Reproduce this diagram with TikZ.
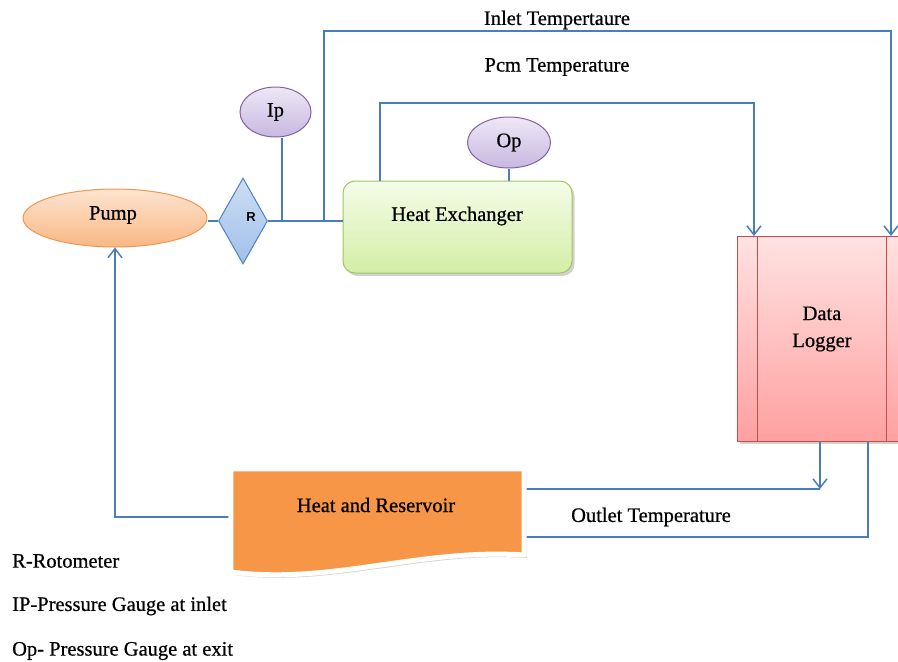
\documentclass[tikz,border=0pt]{standalone}
\usepackage{fontspec}
\setmainfont{Liberation Serif}[FakeBold=0.5]
\newfontfamily\lblfont{Liberation Serif}[FakeBold=0.6]
\setsansfont{Liberation Sans}
\usetikzlibrary{shapes.geometric,arrows.meta,shadows}
\definecolor{lineblue}{RGB}{74,126,187}
\definecolor{pumpdraw}{RGB}{240,150,80}
\definecolor{pumptop}{RGB}{253,228,208}
\definecolor{pumpbot}{RGB}{249,183,132}
\definecolor{dtop}{RGB}{205,222,244}
\definecolor{dbot}{RGB}{160,192,234}
\definecolor{ddraw}{RGB}{79,129,189}
\definecolor{gtop}{RGB}{238,232,246}
\definecolor{gbot}{RGB}{200,184,224}
\definecolor{gdraw}{RGB}{128,100,162}
\definecolor{htop}{RGB}{244,252,232}
\definecolor{hbot}{RGB}{212,238,166}
\definecolor{hdraw}{RGB}{160,198,100}
\definecolor{ltop}{RGB}{255,226,226}
\definecolor{lbot}{RGB}{255,160,160}
\definecolor{ldraw}{RGB}{192,80,77}
\definecolor{resfill}{RGB}{247,150,70}
\tikzset{
  lbl/.style={font=\lblfont\fontsize{20.5}{24}\selectfont, inner sep=0pt},
  conn/.style={draw=lineblue, line width=1.5pt},
  arr/.style={-{Straight Barb[length=9pt,width=14pt,line width=1.5pt]}},
  gauge/.style={ellipse, draw=gdraw, line width=1pt, top color=gtop, bottom color=gbot, inner sep=0pt, minimum width=71pt, minimum height=50pt, font=\lblfont\fontsize{20.5}{24}\selectfont},
  shad/.style={drop shadow={shadow xshift=2.5pt, shadow yshift=-3pt, opacity=0.3, fill=black!60}}
}
\begin{document}
\begin{tikzpicture}[x=1pt,y=-1pt]
\useasboundingbox (0,0) rectangle (898,662);
% nodes
\node[ellipse, draw=pumpdraw, line width=1pt, top color=pumptop, bottom color=pumpbot, inner sep=0pt, minimum width=184pt, minimum height=58pt] (pump) at (115,218) {};
\node[lbl] (pumpt) at (113,215) {Pump};
\node[diamond, draw=ddraw, line width=1pt, top color=dtop, bottom color=dbot, inner sep=0pt, minimum width=49pt, minimum height=86pt] (R) at (243,221) {};
\node[font=\sffamily\bfseries\fontsize{13}{15}\selectfont, inner sep=0pt] (Rt) at (251,217) {R};
\node[gauge] (ip) at (275.5,112) {Ip};
\node[gauge, minimum width=83pt, minimum height=51pt] (op) at (509,142.5) {Op};
\node[rectangle, rounded corners=12pt, draw=hdraw, line width=1pt, top color=htop, bottom color=hbot, minimum width=229pt, minimum height=92pt, inner sep=0pt, shad] (hx) at (457.5,227) {};
\node[lbl] (hxt) at (457,216) {Heat Exchanger};
\node[rectangle, draw=ldraw, line width=1pt, top color=ltop, bottom color=lbot, minimum width=173pt, minimum height=205pt, inner sep=0pt, shad] (dl) at (823.5,338.5) {};
\draw[draw=ldraw, line width=1pt] ([xshift=21pt]dl.north west) -- ([xshift=21pt]dl.south west);
\draw[draw=ldraw, line width=1pt] ([xshift=150pt]dl.north west) -- ([xshift=150pt]dl.south west);
\node[lbl, align=center] (dlt) at (822,329) {Data\\[3pt]Logger};
\node[minimum width=293pt, minimum height=96pt, inner sep=0pt] (res) at (377.5,517) {};
% connectors
\coordinate (toprow) at (0,31);
\coordinate (pcmrow) at (0,103);
\coordinate (tin) at (324,221);
\coordinate (dlin) at (891,236);
\coordinate (dlpcm) at (754,236);
\coordinate (dlA) at (820,441);
\coordinate (dlB) at (868,441);
\coordinate (corner1) at (820,489);
\coordinate (p0) at (380,181);
\draw[conn] (pump.east |- R) -- (R) -- (R -| hx.west);
\draw[conn] ([xshift=6.5pt]ip.south) -- ([xshift=6.5pt]ip.south |- R);
\draw[conn,arr] (tin) -- (tin |- toprow) -| (dlin);
\draw[conn,arr] (p0) -- (p0 |- pcmrow) -| (dlpcm);
\draw[conn] (op.south) -- (op.south |- hx.north);
\draw[conn,arr] (dlA) -- (corner1);
\draw[conn] ([yshift=28pt]res.east) -- (corner1);
\draw[conn] (dlB) |- ([yshift=-20pt]res.east);
\draw[conn,arr] (res.west) -| (pump.south);
% reservoir shape
\path[fill=resfill, draw=white, line width=5pt, line join=round, shad]
  (res.north west) -- (res.north east) -- (524,555) .. controls (420,548) and (330,585) .. (231,572) -- cycle;
\node[lbl] (rest) at (376,505) {Heat and Reservoir};
% labels
\node[lbl] (inl) at (557,20) {Inlet Tempertaure};
\node[lbl] (pcm) at (557,67) {Pcm Temperature};
\node[lbl] (outl) at (651,517) {Outlet Temperature};
\node[lbl, anchor=west] (l1) at (12,561) {R-Rotometer};
\node[lbl, anchor=west] (l2) at (12,606) {IP-Pressure Gauge at inlet};
\node[lbl, anchor=west] (l3) at (12,651) {Op- Pressure Gauge at exit};
\end{tikzpicture}
\end{document}
